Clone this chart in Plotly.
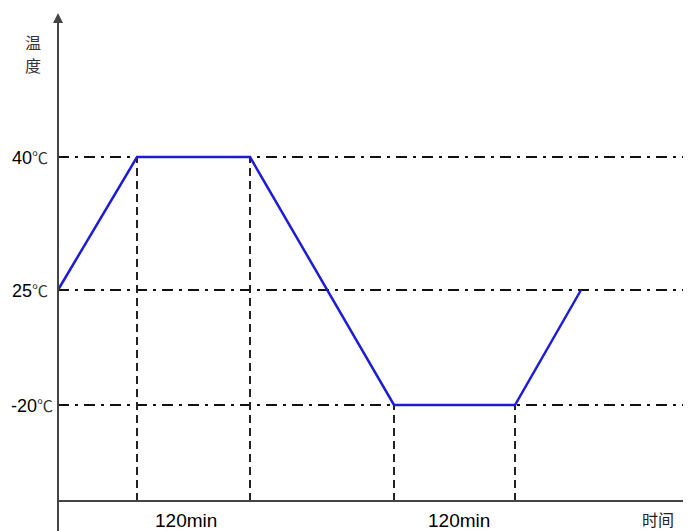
import plotly.graph_objects as go

# ---- data (schematic temperature profile) ----
temps = [25, 40, 40, -20, -20, 25]          # ℃ at each breakpoint
times = [0, 79, 192, 336, 457, 523]         # schematic time units
level_temps = [40, 25, -20]
level_labels = ["40℃", "25℃", "-20℃"]
dwell_labels = ["120min", "120min"]
dwell_label_x = [128, 401]
x_title = "时间"
y_title = "温度"

# schematic (non-linear) temperature scale used by the drawing
scale = {40: 344, 25: 211, -20: 96}
def ypos(t):
    return scale[t]

X_END = 633
Y_TOP = 488

fig = go.Figure()

shapes = []
for t in level_temps:
    shapes.append(dict(type="line", xref="x", yref="y", x0=0, x1=629, y0=ypos(t), y1=ypos(t),
                       line=dict(color="#111111", width=2, dash="11px,6px,3px,6px"), layer="below"))
for tm, tp in zip(times[1:5], temps[1:5]):
    shapes.append(dict(type="line", xref="x", yref="y", x0=tm, x1=tm, y0=0, y1=ypos(tp),
                       line=dict(color="#222222", width=2, dash="8px,5px"), layer="below"))
shapes.append(dict(type="line", xref="x", yref="y", x0=0, x1=X_END, y0=0, y1=0,
                   line=dict(color="#444444", width=2)))
shapes.append(dict(type="line", xref="x", yref="y", x0=0, x1=0, y0=-31, y1=Y_TOP - 8,
                   line=dict(color="#444444", width=2)))

fig.add_trace(go.Scatter(x=times, y=[ypos(t) for t in temps], mode="lines",
                         line=dict(color="#1c1cd6", width=2.5), hoverinfo="skip", showlegend=False))

ann = []
ann.append(dict(x=0, y=Y_TOP, xref="x", yref="y", ax=0, ay=14, axref="pixel", ayref="pixel",
                showarrow=True, arrowhead=2, arrowsize=1, arrowwidth=2, arrowcolor="#444444", text=""))
for t, lab in zip(level_temps, level_labels):
    num, unit = lab[:-1], lab[-1]
    ann.append(dict(x=0, y=ypos(t), xref="x", yref="y", xanchor="right", yanchor="middle",
                    xshift=-9 if t >= 0 else -4, showarrow=False, borderpad=0,
                    text=f"{num}<span style='font-family:Noto Sans CJK SC;font-size:16px;color:#333'>{unit}</span>",
                    font=dict(family="Liberation Sans, Arial", size=18, color="#000000")))
for xc, lab in zip(dwell_label_x, dwell_labels):
    ann.append(dict(x=xc, y=-19, xref="x", yref="y", xanchor="center", yanchor="middle",
                    showarrow=False, text=lab,
                    font=dict(family="Liberation Sans, Arial", size=19, color="#000000")))
ann.append(dict(x=600, y=-18, xref="x", yref="y", xanchor="center", yanchor="middle", showarrow=False,
                text=x_title, font=dict(family="Noto Sans CJK SC", size=16, color="#222222")))
for ch, yy in zip(list(y_title), [459, 436]):
    ann.append(dict(x=-25, y=yy, xref="x", yref="y", xanchor="center", yanchor="middle", showarrow=False,
                    borderpad=0, text=ch,
                    font=dict(family="Noto Sans CJK SC", size=16, color="#333333")))

# page body adds an 8px margin, so the figure is 8px smaller and ranges are trimmed accordingly
fig.update_layout(
    width=683, height=523, margin=dict(l=0, r=0, t=0, b=0),
    paper_bgcolor="white", plot_bgcolor="white",
    xaxis=dict(range=[-50, X_END], visible=False, fixedrange=True),
    yaxis=dict(range=[-30, 493], visible=False, fixedrange=True),
    shapes=shapes, annotations=ann, showlegend=False,
)

fig.write_html("out.html")
